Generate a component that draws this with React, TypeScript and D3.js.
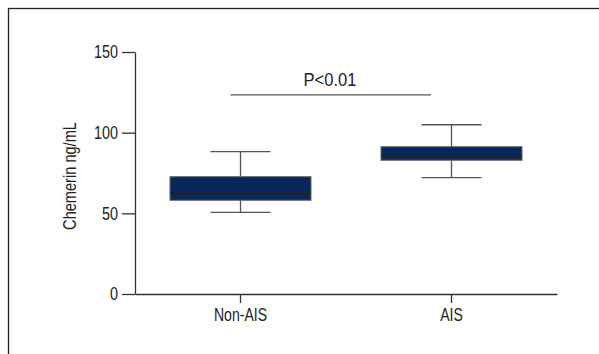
import React, { useRef, useEffect } from 'react';
import * as d3 from 'd3';

// groups and box stats (ng/mL)
const groups = ['Non-AIS', 'AIS'];
const whiskerLow = [50.6, 72.1];
const q1 = [58.1, 82.9];
const median = [62.6, 85.5];
const q3 = [72.7, 91.3];
const whiskerHigh = [88.2, 104.9];
const yTicks = [0, 50, 100, 150];
const sigLevel = 123.4;
const sigLabel = 'P<0.01';
const yLabel = 'Chemerin ng/mL';

const W = 599;
const H = 354;
const FONT = '"Liberation Sans", Arial, sans-serif';
const FS = 18;

// squeeze text so Liberation Sans looks like a condensed face
const condense = (sel: d3.Selection<any, any, any, any>, k: number) => {
  sel.each(function (this: SVGTextElement) {
    const len = this.getComputedTextLength();
    d3.select(this).attr('textLength', len * k).attr('lengthAdjust', 'spacingAndGlyphs');
  });
};

const App = () => {
  const svgRef = useRef<SVGSVGElement>(null);

  useEffect(() => {
    const svg = d3.select(svgRef.current);
    svg.selectAll('*').remove();

    const left = 135, right = 557, top = 52, bottom = 294;

    const x = d3.scaleBand().domain(groups).range([left, right]).padding(0);
    const y = d3.scaleLinear().domain([0, 150]).range([bottom, top]);

    // outer frame
    svg.append('rect')
      .attr('x', 8.5).attr('y', 8.5)
      .attr('width', W + 20).attr('height', H + 20)
      .attr('fill', 'none').attr('stroke', '#222').attr('stroke-width', 1.3);

    // y axis
    const yAxis = d3.axisLeft(y).tickValues(yTicks).tickSize(13).tickPadding(4).tickSizeOuter(0);
    const gy = svg.append('g').attr('transform', `translate(${left},0)`).call(yAxis);
    gy.select('.domain').attr('stroke', '#333').attr('stroke-width', 1.3);
    gy.selectAll('.tick line').attr('stroke', '#333').attr('stroke-width', 1.3);
    gy.selectAll('.tick text').attr('font-family', FONT).attr('font-size', FS).attr('fill', '#222');
    condense(gy.selectAll('.tick text'), 0.8);

    // x axis
    const xAxis = d3.axisBottom(x).tickSize(9).tickPadding(5).tickSizeOuter(0);
    const gx = svg.append('g').attr('transform', `translate(0,${bottom})`).call(xAxis);
    gx.select('.domain').attr('stroke', '#333').attr('stroke-width', 1.3);
    gx.selectAll('.tick line').attr('stroke', '#333').attr('stroke-width', 1.3);
    gx.selectAll('.tick text').attr('font-family', FONT).attr('font-size', FS).attr('fill', '#222');
    condense(gx.selectAll('.tick text'), 0.78);

    // y label
    const yl = svg.append('text')
      .attr('transform', `translate(76,176) rotate(-90)`)
      .attr('text-anchor', 'middle')
      .attr('font-family', FONT).attr('font-size', FS).attr('fill', '#222')
      .text(yLabel);
    condense(yl, 0.81);

    const boxHalf = 70.5;
    const capHalf = 30;

    groups.forEach((g, i) => {
      const cx = x(g)! + x.bandwidth() / 2;
      const bg = svg.append('g');
      // whisker stems
      bg.append('line').attr('x1', cx).attr('x2', cx)
        .attr('y1', y(whiskerHigh[i])).attr('y2', y(q3[i]))
        .attr('stroke', '#555').attr('stroke-width', 1.3);
      bg.append('line').attr('x1', cx).attr('x2', cx)
        .attr('y1', y(q1[i])).attr('y2', y(whiskerLow[i]))
        .attr('stroke', '#555').attr('stroke-width', 1.3);
      // caps
      [whiskerHigh[i], whiskerLow[i]].forEach(v => {
        bg.append('line').attr('x1', cx - capHalf).attr('x2', cx + capHalf)
          .attr('y1', y(v)).attr('y2', y(v))
          .attr('stroke', '#555').attr('stroke-width', 1.3);
      });
      // box
      bg.append('rect')
        .attr('x', cx - boxHalf).attr('y', y(q3[i]))
        .attr('width', boxHalf * 2).attr('height', y(q1[i]) - y(q3[i]))
        .attr('fill', '#07295a').attr('stroke', '#666').attr('stroke-width', 1);
      // median
      bg.append('line').attr('x1', cx - boxHalf + 0.5).attr('x2', cx + boxHalf - 0.5)
        .attr('y1', y(median[i])).attr('y2', y(median[i]))
        .attr('stroke', '#222').attr('stroke-width', 2);
    });

    // significance bar
    svg.append('line')
      .attr('x1', 230.5).attr('x2', 431)
      .attr('y1', y(sigLevel)).attr('y2', y(sigLevel))
      .attr('stroke', '#555').attr('stroke-width', 1.3);
    const sl = svg.append('text')
      .attr('x', 330).attr('y', y(sigLevel) - 9)
      .attr('text-anchor', 'middle')
      .attr('font-family', FONT).attr('font-size', FS).attr('fill', '#222')
      .text(sigLabel);
    condense(sl, 0.92);
  }, []);

  return (
    <svg ref={svgRef} width={W} height={H}
      style={{ position: 'absolute', left: 0, top: 0, background: '#fff' }} />
  );
};

export default App;
